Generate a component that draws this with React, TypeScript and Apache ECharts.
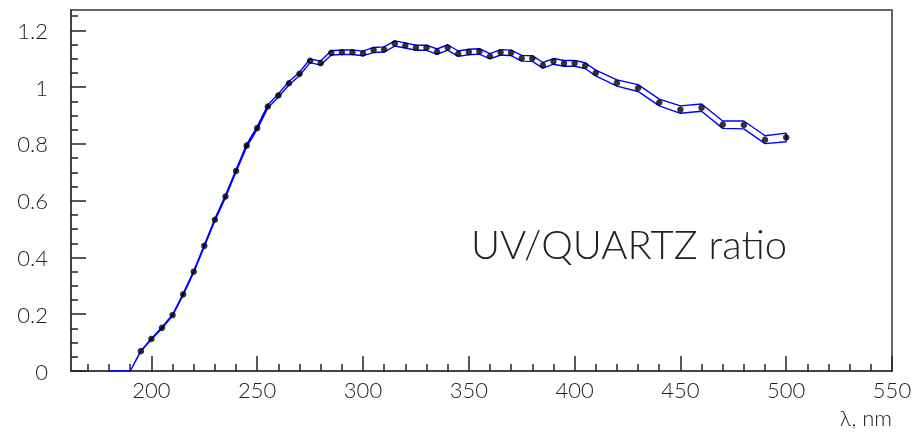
import React, { useEffect, useRef } from "react";
import * as echarts from "echarts";

const wavelengths = [
  180, 185, 190, 195, 200, 205, 210, 215, 220, 225, 230, 235, 240, 245, 250,
  255, 260, 265, 270, 275, 280, 285, 290, 295, 300, 305, 310, 315, 320, 325,
  330, 335, 340, 345, 350, 355, 360, 365, 370, 375, 380, 385, 390, 395, 400,
  405, 410, 420, 430, 440, 450, 460, 470, 480, 490, 500,
];
const ratio = [
  0, 0, 0, 0.07, 0.113, 0.152, 0.197, 0.27, 0.35, 0.441, 0.533, 0.615, 0.705,
  0.794, 0.856, 0.932, 0.971, 1.014, 1.047, 1.093, 1.085, 1.121, 1.123, 1.123,
  1.119, 1.131, 1.133, 1.154, 1.147, 1.139, 1.139, 1.125, 1.14, 1.118, 1.124,
  1.126, 1.109, 1.123, 1.121, 1.102, 1.101, 1.077, 1.091, 1.084, 1.084, 1.076,
  1.05, 1.015, 0.997, 0.946, 0.921, 0.928, 0.868, 0.867, 0.815, 0.823,
];
const errors = [
  0, 0, 0, 0.001, 0.0015, 0.002, 0.002, 0.0025, 0.003, 0.003, 0.0035, 0.004,
  0.004, 0.0045, 0.005, 0.005, 0.0055, 0.006, 0.006, 0.0065, 0.007, 0.0075,
  0.008, 0.008, 0.008, 0.009, 0.009, 0.009, 0.009, 0.009, 0.009, 0.0095,
  0.0095, 0.0095, 0.0095, 0.0095, 0.0095, 0.0095, 0.0095, 0.01, 0.01, 0.01,
  0.01, 0.01, 0.01, 0.01, 0.01, 0.011, 0.012, 0.012, 0.013, 0.013, 0.013,
  0.014, 0.014, 0.015,
];
const xMajorTicks = [200, 250, 300, 350, 400, 450, 500, 550];
const xMinorTicks = [
  170, 180, 190, 210, 220, 230, 240, 260, 270, 280, 290, 310, 320, 330, 340,
  360, 370, 380, 390, 410, 420, 430, 440, 460, 470, 480, 490, 510, 520, 530, 540,
];
const yMajorTicks = [0, 0.2, 0.4, 0.6, 0.8, 1, 1.2];
const yMinorTicks = [
  0.05, 0.1, 0.15, 0.25, 0.3, 0.35, 0.45, 0.5, 0.55, 0.65, 0.7, 0.75, 0.85,
  0.9, 0.95, 1.05, 1.1, 1.15, 1.25,
];
const X_MIN = 162;
const X_MAX = 550;
const Y_MIN = 0;
const Y_MAX = 1.272;
const TITLE = "UV/QUARTZ ratio";
const X_NAME = "λ, nm";

const FONT = "Lato, 'DejaVu Sans', sans-serif";

export default function App() {
  const ref = useRef<HTMLDivElement>(null);
  useEffect(() => {
    if (!ref.current) return;
    const chart = echarts.init(ref.current, undefined, { renderer: "svg" });
    const upper = wavelengths.map((w, i) => [w, ratio[i] + errors[i]]);
    const lower = wavelengths.map((w, i) => [w, ratio[i] - errors[i]]);
    const band = [...upper, ...lower.slice().reverse()];
    const points = wavelengths
      .map((w, i) => [w, ratio[i]])
      .filter((p) => p[1] > 0);

    const axisLineStyle = { color: "#444", width: 2 };
    const tickStyle = { color: "#222", width: 1.5 };
    const labelStyle = {
      color: "#222",
      fontSize: 22,
      fontFamily: FONT,
      fontWeight: 300 as any,
    };

    chart.setOption({
      animation: false,
      grid: {
        left: 71,
        right: 26,
        top: 10,
        bottom: 61,
        show: true,
        borderColor: "#666",
        borderWidth: 2,
        backgroundColor: "transparent",
      },
      xAxis: [
        {
          type: "value",
          min: X_MIN,
          max: X_MAX,
          position: "bottom",
          axisLine: { show: true, lineStyle: axisLineStyle },
          axisTick: {
            show: true,
            inside: true,
            length: 15,
            lineStyle: tickStyle,
            customValues: xMajorTicks,
          },
          axisLabel: {
            ...labelStyle,
            margin: 7,
            customValues: xMajorTicks,
            formatter: (v: number) => String(v),
          },
          splitLine: { show: false },
        },
        {
          type: "value",
          min: X_MIN,
          max: X_MAX,
          position: "bottom",
          offset: 0,
          axisLine: { show: false },
          axisTick: {
            show: true,
            inside: true,
            length: 7,
            lineStyle: tickStyle,
            customValues: xMinorTicks,
          },
          axisLabel: { show: false },
          splitLine: { show: false },
        },
      ],
      yAxis: [
        {
          type: "value",
          min: Y_MIN,
          max: Y_MAX,
          position: "left",
          axisLine: { show: true, lineStyle: axisLineStyle },
          axisTick: {
            show: true,
            inside: true,
            length: 15,
            lineStyle: tickStyle,
            customValues: yMajorTicks,
          },
          axisLabel: {
            ...labelStyle,
            margin: 23,
            customValues: yMajorTicks,
            formatter: (v: number) => String(Math.round(v * 10) / 10),
          },
          splitLine: { show: false },
        },
        {
          type: "value",
          min: Y_MIN,
          max: Y_MAX,
          position: "left",
          offset: 0,
          axisLine: { show: false },
          axisTick: {
            show: true,
            inside: true,
            length: 7,
            lineStyle: tickStyle,
            customValues: yMinorTicks,
          },
          axisLabel: { show: false },
          splitLine: { show: false },
        },
      ],
      graphic: [
        {
          type: "text",
          left: 471,
          top: 224,
          style: {
            text: TITLE,
            fill: "#222",
            fontSize: 40,
            fontFamily: FONT,
            fontWeight: 300,
          },
        },
        {
          type: "text",
          right: 26,
          top: 406,
          style: {
            text: X_NAME,
            fill: "#222",
            fontSize: 22,
            fontFamily: FONT,
            fontWeight: 300,
          },
        },
      ],
      series: [
        {
          type: "line",
          xAxisIndex: 0,
          yAxisIndex: 0,
          data: band,
          symbol: "none",
          lineStyle: { color: "#0000ff", width: 1.4 },
          silent: true,
          z: 2,
        },
        {
          type: "scatter",
          xAxisIndex: 0,
          yAxisIndex: 0,
          data: points,
          symbol: "circle",
          symbolSize: 6.5,
          itemStyle: { color: "#000" },
          z: 3,
        },
      ],
    });
    return () => chart.dispose();
  }, []);
  return (
    <div
      ref={ref}
      style={{ position: "fixed", left: 0, top: 0, width: 918, height: 432 }}
    />
  );
}
